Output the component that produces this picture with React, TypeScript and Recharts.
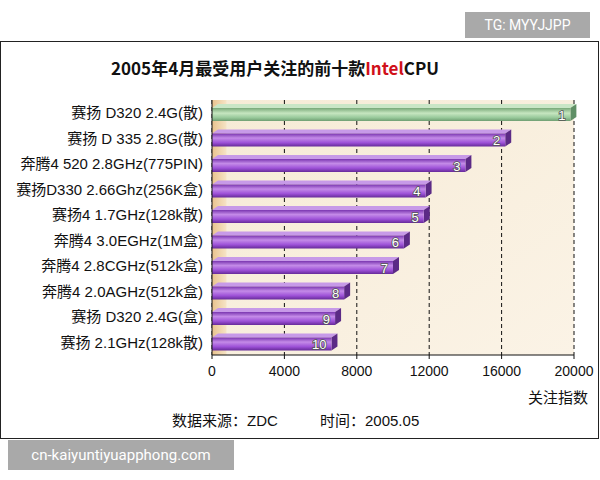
import { BarChart, Bar, XAxis, YAxis, CartesianGrid, LabelList, ReferenceArea } from 'recharts';

// CPU models, ranked by attention index (April 2005)
const cpuNames = [
  '赛扬 D320 2.4G(散)',
  '赛扬 D 335 2.8G(散)',
  '奔腾4 520 2.8GHz(775PIN)',
  '赛扬D330 2.66Ghz(256K盒)',
  '赛扬4 1.7GHz(128k散)',
  '奔腾4 3.0EGHz(1M盒)',
  '奔腾4 2.8CGHz(512k盒)',
  '奔腾4 2.0AGHz(512k盒)',
  '赛扬 D320 2.4G(盒)',
  '赛扬 2.1GHz(128k散)',
];
const attention = [19800, 16200, 14000, 11800, 11700, 10600, 10000, 7300, 6800, 6600];
const ranks = [1, 2, 3, 4, 5, 6, 7, 8, 9, 10];
const xTicks = [0, 4000, 8000, 12000, 16000, 20000];

const FONT = '"Noto Sans CJK SC", "Noto Sans", sans-serif';
const LATIN = '"Liberation Sans", Arial, "Noto Sans CJK SC", sans-serif';

const chartData = cpuNames.map((name, i) => ({
  name,
  value: attention[i],
  rank: ranks[i],
}));

// 3D-looking bar: front face, top face and end cap
function Bar3D(props: any) {
  const { x, y, width, height, index } = props;
  if (width <= 0) return null;
  const d = 6; // depth offset
  const top = y + 4;
  const first = index === 0;
  const front = first ? 'url(#gBar1)' : 'url(#gBar)';
  const topFill = first ? '#c9e6c6' : '#c79ae8';
  const sideFill = first ? '#5f8f66' : '#5b2a86';
  return (
    <g>
      <polygon
        points={`${x},${top} ${x + d},${y} ${x + width + d},${y} ${x + width},${top}`}
        fill={topFill}
      />
      <polygon
        points={`${x + width},${top} ${x + width + d},${y} ${x + width + d},${y + height - 4} ${x + width},${y + height}`}
        fill={sideFill}
      />
      <rect x={x} y={top} width={width} height={height - 4} fill={front} />
    </g>
  );
}

function RankLabel(props: any) {
  const { x, y, width, height, value } = props;
  return (
    <text
      x={x + width - 5}
      y={y + height / 2 + 7}
      textAnchor="end"
      fontSize={13}
      fontFamily={LATIN}
      fill="#fff"
      stroke="#555"
      strokeWidth={1.6}
      paintOrder="stroke"
    >
      {value}
    </text>
  );
}

export default function App() {
  return (
    <div style={{ position: 'absolute', left: 0, top: 0, width: 600, height: 480, background: '#fff', fontFamily: FONT }}>
      {/* frame */}
      <div style={{ position: 'absolute', left: 0, top: 41, width: 597, height: 396, border: '1px solid #222' }} />

      <div style={{ position: 'absolute', left: 0, top: 55, width: 550, textAlign: 'center', fontSize: 17, fontWeight: 700, color: '#111' }}>
        2005年4月最受用户关注的前十款<span style={{ color: '#d0101a' }}>Intel</span>CPU
      </div>

      <BarChart
        width={600}
        height={480}
        data={chartData}
        layout="vertical"
        margin={{ top: 100, right: 26, bottom: 95, left: 0 }}
        barSize={17}
        style={{ position: 'absolute', left: 0, top: 0 }}
      >
        <defs>
          <linearGradient id="gBg" x1="0" y1="0" x2="1" y2="1">
            <stop offset="0%" stopColor="#f6ebd6" />
            <stop offset="100%" stopColor="#fbf3e6" />
          </linearGradient>
          <linearGradient id="gWall" x1="0" y1="0" x2="1" y2="0">
            <stop offset="0%" stopColor="#e8c28e" />
            <stop offset="100%" stopColor="#f6e4c6" />
          </linearGradient>
          <linearGradient id="gBar" x1="0" y1="0" x2="0" y2="1">
            <stop offset="0%" stopColor="#7a36b0" />
            <stop offset="35%" stopColor="#c48be8" />
            <stop offset="70%" stopColor="#9e52d8" />
            <stop offset="100%" stopColor="#662a9a" />
          </linearGradient>
          <linearGradient id="gBar1" x1="0" y1="0" x2="0" y2="1">
            <stop offset="0%" stopColor="#78a878" />
            <stop offset="40%" stopColor="#c6e6c0" />
            <stop offset="75%" stopColor="#97c89a" />
            <stop offset="100%" stopColor="#6f9e72" />
          </linearGradient>
        </defs>
        <CartesianGrid
          horizontal={false}
          vertical={true}
          fill="url(#gBg)"
          stroke="#111"
          strokeDasharray="4 3"
        />
        <ReferenceArea x1={0} x2={800} fill="url(#gWall)" fillOpacity={1} stroke="none" ifOverflow="hidden" />
        <XAxis
          type="number"
          domain={[0, 20000]}
          ticks={xTicks}
          interval={0}
          height={30}
          axisLine={{ stroke: '#111' }}
          tickLine={{ stroke: '#111' }}
          tickSize={4}
          tick={{ fontSize: 14, fill: '#111', fontFamily: LATIN, dy: 5 }}
        />
        <YAxis
          type="category"
          dataKey="name"
          width={212}
          axisLine={{ stroke: '#111' }}
          tickLine={false}
          interval={0}
          tick={{ fontSize: 15, fill: '#111', fontFamily: LATIN }}
          tickMargin={3}
        />
        <Bar dataKey="value" shape={<Bar3D />} isAnimationActive={false}>
          <LabelList dataKey="rank" content={<RankLabel />} />
        </Bar>
      </BarChart>

      <div style={{ position: 'absolute', right: 12, top: 386, fontSize: 15, color: '#111', fontFamily: LATIN }}>关注指数</div>
      <div style={{ position: 'absolute', left: 172, top: 409, fontSize: 15, color: '#111', fontFamily: LATIN }}>数据来源：ZDC</div>
      <div style={{ position: 'absolute', left: 320, top: 409, fontSize: 15, color: '#111', fontFamily: LATIN }}>时间：2005.05</div>

      <div style={{ position: 'absolute', left: 465, top: 12, width: 125, height: 26, background: '#a9a9a9', color: '#fff', fontSize: 14, lineHeight: '26px', textAlign: 'center', fontFamily: 'Roboto, sans-serif' }}>
        TG: MYYJJPP
      </div>
      <div style={{ position: 'absolute', left: 8, top: 440, width: 226, height: 30, background: '#a9a9a9', color: '#fff', fontSize: 15, lineHeight: '30px', textAlign: 'center', fontFamily: 'Roboto, sans-serif' }}>
        cn-kaiyuntiyuapphong.com
      </div>
    </div>
  );
}
